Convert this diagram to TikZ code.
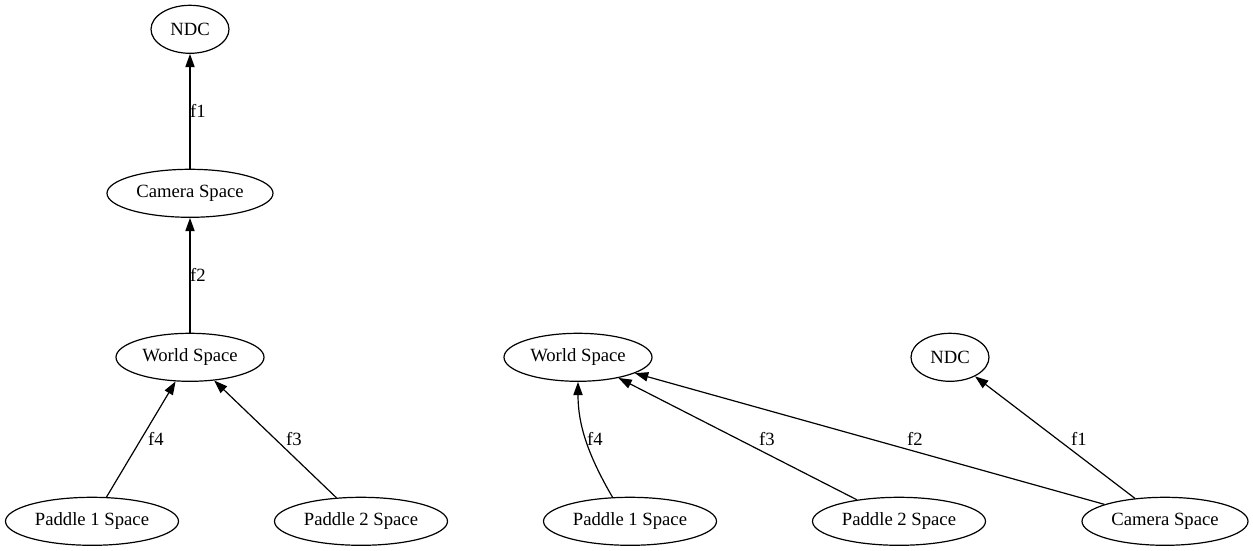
\documentclass[tikz,border=0pt]{standalone}
\usepackage{fontspec}
\setmainfont{Liberation Serif}
\usetikzlibrary{shapes.geometric,arrows.meta}

\begin{document}
\begin{tikzpicture}[x=1pt,y=-1pt,
  space/.style={ellipse, draw, line width=1.2pt, minimum height=48pt, inner sep=0pt,
    font=\fontsize{18.67pt}{22pt}\selectfont},
  edge/.style={draw, line width=1.2pt, -{Triangle[length=13.3pt,width=9.3pt]}},
  lbl/.style={inner sep=0pt, font=\fontsize{18.67pt}{22pt}\selectfont}]
  \useasboundingbox (0,0) rectangle (1253,551);

  % chain of transforms, first layout
  \node[space, minimum width=78pt]  (ndcA)   at (190,29.3)  {NDC};
  \node[space, minimum width=166pt] (camA)   at (190,193.3) {Camera Space};
  \node[space, minimum width=148pt] (worldA) at (190,357.3) {World Space};
  \node[space, minimum width=173pt] (p1A)    at (92,521.3)  {Paddle 1 Space};
  \node[space, minimum width=173pt] (p2A)    at (361,521.3) {Paddle 2 Space};

  \draw[edge] (camA) -- (ndcA);
  \draw[edge] (worldA) -- (camA);
  \draw[edge] (p1A) -- (worldA);
  \draw[edge] (p2A) -- (worldA);

  \node[lbl] (fA1) at (198,111) {f1};
  \node[lbl] (fA2) at (198,275) {f2};
  \node[lbl] (fA4) at (156,439) {f4};
  \node[lbl] (fA3) at (294,439) {f3};

  % same transforms, all mapped directly
  \node[space, minimum width=148pt] (worldB) at (578,357.3)  {World Space};
  \node[space, minimum width=78pt]  (ndcB)   at (950,357.3)  {NDC};
  \node[space, minimum width=173pt] (p1B)    at (630,521.3)  {Paddle 1 Space};
  \node[space, minimum width=173pt] (p2B)    at (899,521.3)  {Paddle 2 Space};
  \node[space, minimum width=166pt] (camB)   at (1165,521.3) {Camera Space};

  \draw[edge] (p1B.126) .. controls (588,455) and (578,425) .. (worldB.south);
  \draw[edge] (p2B) -- (worldB);
  \draw[edge] (camB) -- (worldB);
  \draw[edge] (camB) -- (ndcB);

  \node[lbl] (fB4) at (595,439)  {f4};
  \node[lbl] (fB3) at (767,439)  {f3};
  \node[lbl] (fB2) at (915,439)  {f2};
  \node[lbl] (fB1) at (1079,439) {f1};
\end{tikzpicture}
\end{document}
